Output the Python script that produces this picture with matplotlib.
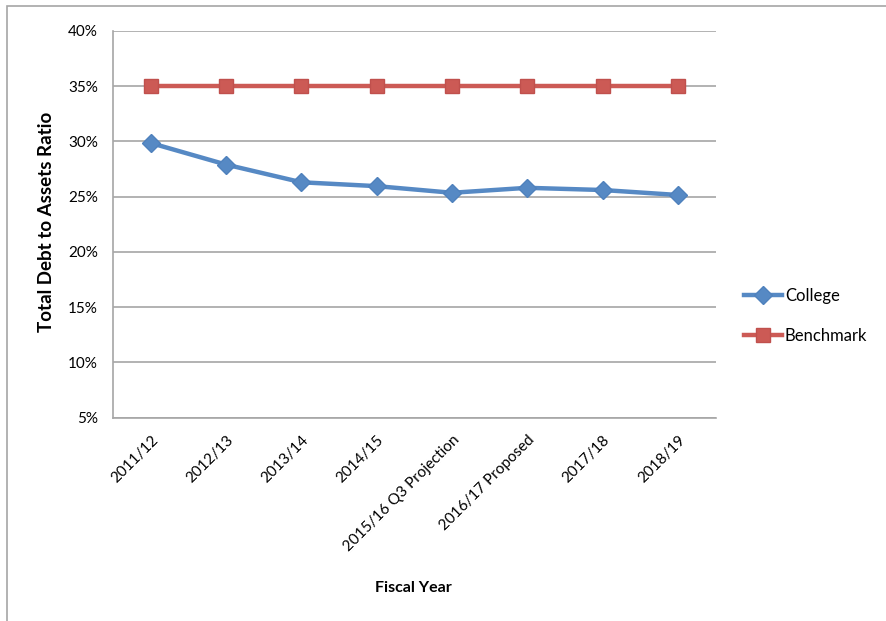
import matplotlib
matplotlib.use("Agg")
import matplotlib.pyplot as plt
from matplotlib.patches import Rectangle
from matplotlib.ticker import FixedLocator

years = ["2011/12", "2012/13", "2013/14", "2014/15", "2015/16 Q3 Projection",
         "2016/17 Proposed", "2017/18", "2018/19"]
college = [29.85, 27.9, 26.3, 25.95, 25.35, 25.8, 25.6, 25.15]
benchmark = [35, 35, 35, 35, 35, 35, 35, 35]
y_ticks = [5, 10, 15, 20, 25, 30, 35, 40]

plt.rcParams["font.family"] = ["Lato", "DejaVu Sans"]

W, H = 886, 621
fig = plt.figure(figsize=(W / 100, H / 100), dpi=100)
ax = fig.add_axes([113.3 / W, 1 - 417.5 / H, (715.5 - 113.3) / W, (417.5 - 31) / H])

# outer chart frame
fig.patches.append(Rectangle((7 / W, -0.05), 1.0, 1 - 6 / H + 0.05,
                             transform=fig.transFigure, fill=False,
                             edgecolor="#a6a6a6", linewidth=1.2))

blue = "#5689c4"
red = "#cc5a55"
x = list(range(len(years)))
ax.plot(x, college, color=blue, linewidth=3.2, marker="D", markersize=9,
        markerfacecolor=blue, markeredgecolor="#4f81bd", label="College",
        solid_joinstyle="round", zorder=3)
ax.plot(x, benchmark, color=red, linewidth=3.2, marker="s", markersize=10,
        markerfacecolor=red, markeredgecolor="#c0504d", label="Benchmark",
        zorder=3)

ax.set_xlim(-0.5, len(years) - 0.5)
ax.set_ylim(5, 40)
ax.yaxis.set_major_locator(FixedLocator(y_ticks))
ax.set_yticklabels([f"{v}%" for v in y_ticks], fontsize=11)
ax.set_xticks(x)
ax.set_xticklabels(years, rotation=45, ha="right", rotation_mode="anchor",
                   fontsize=11)
ax.tick_params(axis="y", length=0, pad=11)
ax.tick_params(axis="x", length=0, pad=11)

ax.grid(axis="y", color="#a6a6a6", linewidth=1.2)
ax.set_axisbelow(True)
for s in ["top", "right"]:
    ax.spines[s].set_visible(False)
for s in ["left", "bottom"]:
    ax.spines[s].set_color("#a6a6a6")
    ax.spines[s].set_linewidth(1.2)

fig.text(47 / W, 1 - 222 / H, "Total Debt to Assets Ratio", fontsize=13.5,
         fontweight="bold", rotation=90, ha="center", va="center")
fig.text(413 / W, 1 - 588 / H, "Fiscal Year", fontsize=11.5, fontweight="bold",
         ha="center", va="center")

leg = fig.legend(handles=ax.get_lines(), loc="center left",
                 bbox_to_anchor=(744 / W, 1 - 316 / H), frameon=False,
                 fontsize=12, handlelength=2.3, handletextpad=0.15,
                 labelspacing=1.45, borderaxespad=0, borderpad=0)

fig.savefig("out.png", dpi=100, facecolor="white")
